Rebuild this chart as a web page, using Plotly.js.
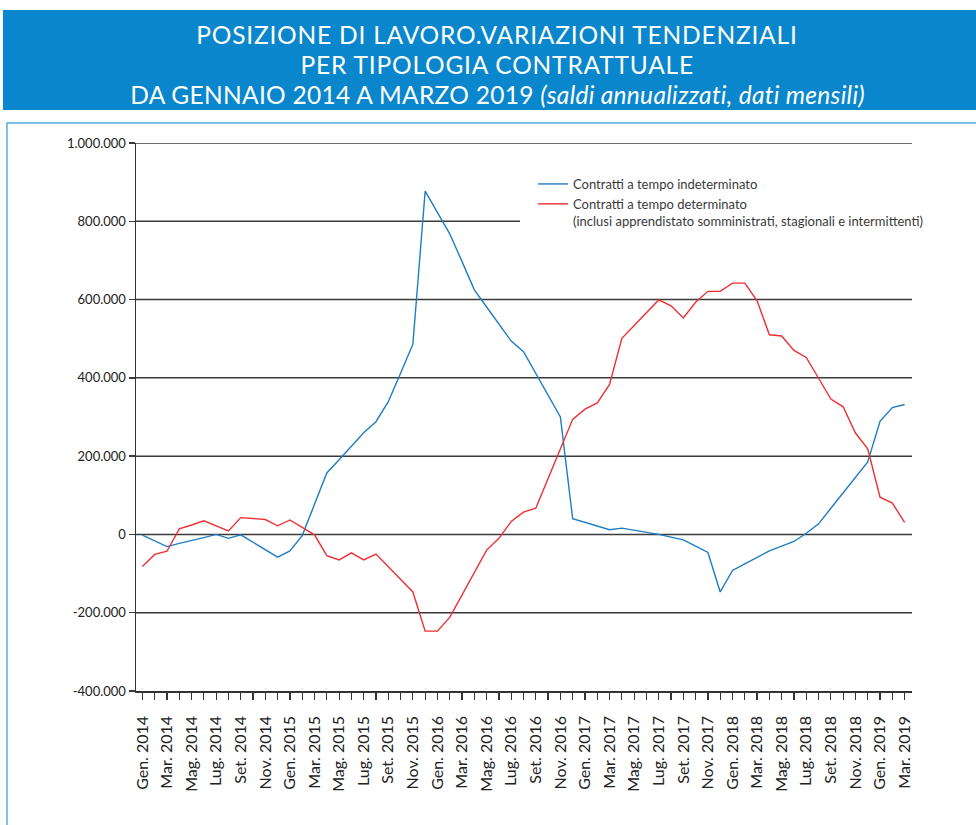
<!DOCTYPE html>
<html>
<head>
<meta charset="utf-8">
<script src="https://cdn.plot.ly/plotly-3.0.1.min.js"></script>
<style>
  html, body { margin: 0; padding: 0; background: #ffffff; }
  #chart { width: 976px; height: 825px; }
  .annotation text { letter-spacing: 0.8px; }
  .annotation[data-index="2"] text { letter-spacing: 0.3px; }
</style>
</head>
<body>
<div id="chart"></div>
<script>
// Months Jan 2014 - Mar 2019
const months = [
  "Gen. 2014","Feb. 2014","Mar. 2014","Apr. 2014","Mag. 2014","Giu. 2014","Lug. 2014","Ago. 2014","Set. 2014","Ott. 2014","Nov. 2014","Dic. 2014",
  "Gen. 2015","Feb. 2015","Mar. 2015","Apr. 2015","Mag. 2015","Giu. 2015","Lug. 2015","Ago. 2015","Set. 2015","Ott. 2015","Nov. 2015","Dic. 2015",
  "Gen. 2016","Feb. 2016","Mar. 2016","Apr. 2016","Mag. 2016","Giu. 2016","Lug. 2016","Ago. 2016","Set. 2016","Ott. 2016","Nov. 2016","Dic. 2016",
  "Gen. 2017","Feb. 2017","Mar. 2017","Apr. 2017","Mag. 2017","Giu. 2017","Lug. 2017","Ago. 2017","Set. 2017","Ott. 2017","Nov. 2017","Dic. 2017",
  "Gen. 2018","Feb. 2018","Mar. 2018","Apr. 2018","Mag. 2018","Giu. 2018","Lug. 2018","Ago. 2018","Set. 2018","Ott. 2018","Nov. 2018","Dic. 2018",
  "Gen. 2019","Feb. 2019","Mar. 2019"
];

// Contratti a tempo indeterminato (saldi annualizzati)
const indeterminato = [
  -2000, -16000, -31000, -23000, -16000, -8000, 0, -10000, -1000, -20000, -39000, -58000,
  -42000, -3000, 77000, 157000, 191000, 226000, 260000, 288000, 339000, 412000, 486000, 877000,
  822000, 768000, 697000, 625000, 581000, 538000, 494000, 467000, 411000, 356000, 300000, 40000,
  31000, 22000, 12000, 16000, 11000, 6000, 0, -7000, -14000, -30000, -46000, -147000,
  -92000, -75000, -58000, -42000, -30000, -18000, 3000, 27000, 67000, 106000, 146000, 185000,
  289000, 324000, 332000
];

// Contratti a tempo determinato (inclusi apprendistato, somministrati, stagionali e intermittenti)
const determinato = [
  -82000, -51000, -43000, 14000, 24000, 35000, 22000, 9000, 43000, 41000, 38000, 22000,
  37000, 18000, -1000, -54000, -65000, -47000, -65000, -50000, -82000, -115000, -147000, -247000,
  -247000, -212000, -155000, -97000, -40000, -10000, 33000, 57000, 67000, 143000, 218000, 294000,
  320000, 336000, 383000, 501000, 534000, 566000, 599000, 584000, 553000, 593000, 621000, 621000,
  642000, 642000, 597000, 510000, 507000, 470000, 452000, 399000, 346000, 326000, 259000, 219000,
  95000, 80000, 31000
];

const yTickVals = [-400000, -200000, 0, 200000, 400000, 600000, 800000, 1000000];
const yTickText = ["-400.000", "-200.000", "0", "200.000", "400.000", "600.000", "800.000", "1.000.000"];

const titleLines = [
  "POSIZIONE DI LAVORO.VARIAZIONI TENDENZIALI",
  "PER TIPOLOGIA CONTRATTUALE",
  "DA GENNAIO 2014 A MARZO 2019 <i>(saldi annualizzati, dati mensili)</i>"
];

const idx = months.map((_, i) => i);
const xTickText = months.map((m, i) => (i % 2 === 0 ? m : ""));

const FONT = "Lato, 'Open Sans', sans-serif";

// plot area: x 136..912, y 143..691
const PL = 136, PR = 912, PT = 143, PB = 691;
const PW = PR - PL, PH = PB - PT;
const px = x => (x - PL) / PW;
const py = y => (PB - y) / PH;

const shapes = [];
// frame box
shapes.push({type: "rect", xref: "paper", yref: "paper",
  x0: px(7), x1: px(990), y0: py(123), y1: py(840),
  line: {color: "#56ade0", width: 1.5}, fillcolor: "rgba(0,0,0,0)", layer: "below"});
// banner
shapes.push({type: "rect", xref: "paper", yref: "paper",
  x0: px(3), x1: px(980), y0: py(10), y1: py(110),
  line: {width: 0}, fillcolor: "#0a87cc", layer: "below"});
// gridlines
yTickVals.forEach(v => {
  if (v === -400000) return;
  shapes.push({type: "line", xref: "paper", yref: "y",
    x0: 0, x1: v === 800000 ? px(520) : 1, y0: v, y1: v,
    line: {color: "#3a3a3a", width: 1.5}, layer: "below"});
});

// title lines as annotations
const titleY = [35, 64.5, 94];
const annotations = titleLines.map((t, k) => ({
  text: t, xref: "paper", yref: "paper",
  x: px(497), y: py(titleY[k]), xanchor: "center", yanchor: "middle",
  showarrow: false, borderpad: 0,
  font: {family: FONT, size: 24.5, color: "#ffffff"}
}));

const traces = [
  {x: idx, y: indeterminato, type: "scatter", mode: "lines",
   name: "Contratti a tempo indeterminato",
   line: {color: "#1f7dc0", width: 1.4}},
  {x: idx, y: determinato, type: "scatter", mode: "lines",
   name: "Contratti a tempo determinato<br>(inclusi apprendistato somministrati, stagionali e intermittenti)",
   line: {color: "#ee2f33", width: 1.4}}
];

const layout = {
  width: 976, height: 825,
  margin: {l: PL, r: 976 - PR, t: PT, b: 825 - PB, pad: 0},
  paper_bgcolor: "#ffffff", plot_bgcolor: "rgba(0,0,0,0)",
  font: {family: FONT, color: "#222"},
  separators: ",.",
  xaxis: {
    range: [-0.52, 62.6],
    tickmode: "array", tickvals: idx, ticktext: xTickText,
    tickangle: -90, ticks: "outside", ticklen: 7, tickwidth: 1.2, tickcolor: "#333",
    ticklabelstandoff: 10,
    showline: true, linecolor: "#333", linewidth: 1.5,
    showgrid: false, zeroline: false,
    tickfont: {family: FONT, size: 16, color: "#222"},
    fixedrange: true
  },
  yaxis: {
    range: [-400000, 1000000],
    tickmode: "array", tickvals: yTickVals, ticktext: yTickText,
    ticks: "outside", ticklen: 6, tickwidth: 1.5, tickcolor: "#3a3a3a",
    showline: true, linecolor: "#333", linewidth: 1.5,
    showgrid: false, zeroline: false,
    tickfont: {family: FONT, size: 13, color: "#222"},
    fixedrange: true
  },
  showlegend: true,
  legend: {
    x: px(533), xanchor: "left", y: py(169), yanchor: "top",
    bgcolor: "rgba(255,255,255,0)", borderwidth: 0,
    font: {family: FONT, size: 13, color: "#3a3a3a"},
    valign: "top", tracegroupgap: 0
  },
  annotations: annotations,
  shapes: shapes
};

Plotly.newPlot("chart", traces, layout, {displayModeBar: false, staticPlot: true});
</script>
</body>
</html>
